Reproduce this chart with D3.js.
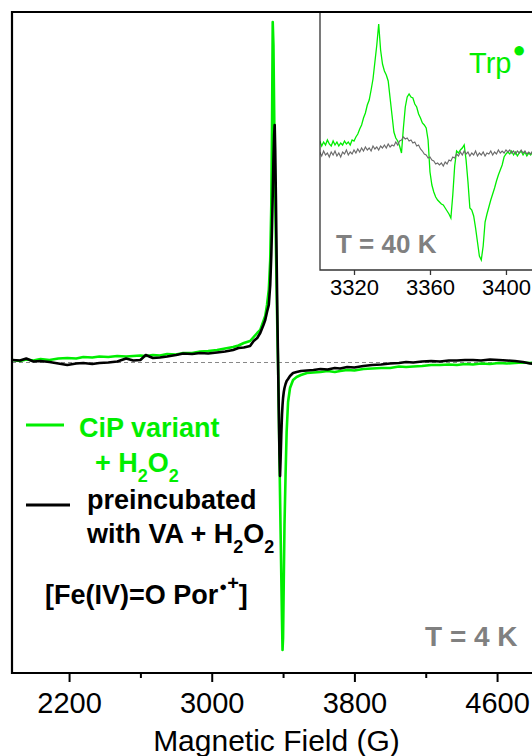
<!DOCTYPE html>
<html>
<head>
<meta charset="utf-8">
<script src="https://cdn.jsdelivr.net/npm/d3@7"></script>
<style>
  body { margin: 0; background: #fff; }
  svg text { font-family: "Liberation Sans", Arial, sans-serif; }
</style>
</head>
<body>
<svg id="chart" width="532" height="756"></svg>
<script>
const green = "#00ee00";
const gray = "#808080";

// Main spectrum, T = 4 K (field in G, intensity in a.u.)
const fieldMain = [
  1880, 1925, 1960, 2000, 2040, 2090, 2140, 2190, 2240, 2280,
  2330, 2370, 2420, 2470, 2520, 2560, 2600, 2630, 2670, 2710,
  2750, 2800, 2840, 2890, 2935, 2980, 3030, 3075, 3120, 3150,
  3180, 3215, 3235, 3255, 3272, 3290, 3300, 3310, 3320, 3328,
  3334, 3338, 3342, 3346, 3350, 3353, 3356, 3360, 3364, 3368,
  3372, 3376, 3380, 3383, 3386, 3390, 3394, 3397, 3400, 3404,
  3408, 3414, 3420, 3428, 3439, 3456, 3476, 3500, 3534, 3570,
  3610, 3650, 3690, 3720, 3760, 3800, 3850, 3900, 3950, 4000,
  4050, 4090, 4130, 4180, 4230, 4280, 4330, 4375, 4420, 4465,
  4510, 4560, 4610, 4655, 4700, 4745, 4785, 4830, 4880
];
const cipMain = [
  2.5, 1.5, 3, 2, 3.5, 2.5, 4, 4.5, 4, 5.5,
  5, 6, 5.5, 6.5, 6, 6.5, 7, 6.5, 7.5, 7,
  8.5, 8, 9.5, 9.5, 11, 11.5, 12.5, 14, 15.5, 17,
  19.5, 21.5, 25.5, 29.5, 32.5, 41.5, 46.5, 57.5, 72.5, 102.5,
  157.5, 232.5, 340.5, 317.5, 252.5, 202.5, 162.5, 117.5, 72.5, 32.5,
  -2.5, -47.5, -97.5, -132.5, -167.5, -212.5, -257.5, -287.5, -275.5, -217.5,
  -162.5, -112.5, -69.5, -39.5, -25.5, -17.5, -14.5, -12.5, -10.5, -10,
  -9.5, -8.5, -9.5, -8.5, -7.5, -8, -6.5, -6, -5.5, -5.5,
  -4, -4.5, -4, -3.5, -2.5, -2.5, -2, -2.5, -1.5, -2,
  -1, -1.5, -0.5, -1, -0.5, 0, -0.5, 0, -0.5
];
const vaMain = [
  2.5, 2, 4, 1, 1.5, 0.5, -1, -2.5, -1, -0.5,
  -1.5, -0.5, 0, 1, 4, 2, 2.5, 7.5, 4.5, 5,
  6, 7.5, 9, 8.5, 9.5, 9, 10, 11, 12.5, 14.5,
  15, 16.5, 21.5, 24.5, 29.5, 37.5, 42.5, 50.5, 57.5, 77.5,
  107.5, 134.5, 167.5, 202.5, 227.5, 237.5, 212.5, 162.5, 102.5, 47.5,
  0.5, -47.5, -92.5, -113.5, -97.5, -72.5, -52.5, -42.5, -35.5, -29.5,
  -25.5, -21.5, -18.5, -16.5, -13.5, -10.5, -9.5, -8.5, -8, -7.5,
  -6.5, -7, -5.5, -6, -4.5, -5, -3.5, -2.5, -2, -1,
  -0.5, 0.5, 0, 1, 1.5, 1, 2, 2, 2.5, 2.5,
  2, 3, 2.5, 2, 1.5, 0.5, -1, -1.5, -1
];

// Inset, T = 40 K, 1 G steps from 3302 G
const fieldInset = d3.range(3302, 3422);
const cipInset = [
  12.5, 7.5, 11.5, 8.5, 13.5, 9.5, 7.5, 12.5, 8.5, 11.5,
  7.5, 10.5, 8.5, 12.5, 9.5, 11.5, 8.5, 13.5, 12.5, 16.5,
  19.5, 24.5, 28.5, 35.5, 40.5, 48.5, 53.5, 63.5, 74.5, 91.5,
  108.5, 129.5, 103.5, 89.5, 82.5, 78.5, 72.5, 55.5, 38.5, 21.5,
  15.5, 12.5, 7.5, 0.5, 25.5, 46.5, 56.5, 59.5, 56.5, 55.5,
  49.5, 46.5, 39.5, 35.5, 30.5, 28.5, 25.5, 13.5, -18.5, -31.5,
  -38.5, -43.5, -46.5, -48.5, -50.5, -51.5, -54.5, -57.5, -60.5, -64.5,
  -41.5, -12.5, 2.5, 0.5, 3.5, 5.5, 8.5, -6.5, -28.5, -54.5,
  -56.5, -62.5, -74.5, -88.5, -102.5, -106.5, -92.5, -68.5, -60.5, -53.5,
  -46.5, -40.5, -34.5, -27.5, -21.5, -16.5, -11.5, -3.5, -0.5, 1.5,
  -0.5, 2.5, -1.5, 1.5, -2.5, 0.5, 2.5, -1.5, 1.5, -2.5,
  0.5, -1.5, 1.5, -0.5, 2.5, -1.5, 0.5, 1.5, -0.5, 0.5
];
const vaInset = [
  1.5, -2.5, 2.5, -1.5, 0.5, -3.5, 1.5, -1.5, 2.5, -2.5,
  0.5, -3.5, 1.5, -0.5, 3.5, -1.5, 1.5, -0.5, 3.5, 0.5,
  4.5, 1.5, 5.5, 2.5, 6.5, 3.5, 5.5, 2.5, 7.5, 4.5,
  6.5, 3.5, 7.5, 5.5, 8.5, 5.5, 9.5, 6.5, 8.5, 7.5,
  11.5, 8.5, 12.5, 13.5, 16.5, 14.5, 15.5, 12.5, 13.5, 10.5,
  11.5, 7.5, 8.5, 4.5, 2.5, -0.5, -1.5, -4.5, -3.5, -6.5,
  -7.5, -10.5, -9.5, -11.5, -9.5, -12.5, -8.5, -10.5, -6.5, -7.5,
  -3.5, -4.5, -0.5, -2.5, 1.5, -1.5, 2.5, -0.5, 1.5, -2.5,
  0.5, -1.5, 2.5, -2.5, 0.5, -1.5, 1.5, -2.5, 0.5, -0.5,
  2.5, -1.5, 1.5, -0.5, 3.5, 0.5, 2.5, 0.5, 3.5, 1.5,
  3.5, 0.5, 2.5, -0.5, 2.5, 0.5, 3.5, 0.5, 2.5, -0.5,
  1.5, -0.5, 2.5, 0.5, 1.5, -0.5, 2.5, 0.5, 1.5, 0.5
];

const mainTicks = [2200, 3000, 3800, 4600];
const mainMinorTicks = [2600, 3400, 4200];
const insetTicks = [3320, 3360, 3400];

const svg = d3.select("#chart");

// Main plot area
const plot = { left: 12, top: 12, right: 547, bottom: 673 };
const x = d3.scaleLinear().domain([1880, 4880]).range([plot.left, plot.right]);
const y = d3.scaleLinear().domain([-310.5, 350.5]).range([plot.bottom, plot.top]);

svg.append("defs").append("clipPath").attr("id", "clip-main")
  .append("rect")
  .attr("x", plot.left).attr("y", plot.top)
  .attr("width", plot.right - plot.left).attr("height", plot.bottom - plot.top);

// zero line
svg.append("line")
  .attr("x1", plot.left).attr("x2", plot.right)
  .attr("y1", y(0)).attr("y2", y(0))
  .attr("stroke", "#888").attr("stroke-width", 1)
  .attr("stroke-dasharray", "4,3");

const mainLine = (vals) => d3.line()
  .x((d, i) => x(fieldMain[i]))
  .y(d => y(d))(vals);

const traces = svg.append("g").attr("clip-path", "url(#clip-main)");
traces.append("path")
  .attr("d", mainLine(cipMain))
  .attr("fill", "none").attr("stroke", green).attr("stroke-width", 2.6)
  .attr("stroke-linejoin", "round");
traces.append("path")
  .attr("d", mainLine(vaMain))
  .attr("fill", "none").attr("stroke", "#000").attr("stroke-width", 2.6)
  .attr("stroke-linejoin", "round");

// Bottom axis
const xAxis = svg.append("g")
  .attr("transform", `translate(0,${plot.bottom})`)
  .call(d3.axisBottom(x).tickValues(mainTicks).tickSize(9).tickSizeOuter(0).tickFormat(d3.format("d")));
xAxis.select(".domain").remove();
xAxis.selectAll(".tick line").attr("stroke-width", 2);
xAxis.selectAll(".tick text")
  .attr("y", 40).attr("dy", null)
  .attr("font-size", 29).attr("fill", "#000")
  .style("font-family", '"Liberation Sans", Arial, sans-serif');

const xMinor = svg.append("g")
  .attr("transform", `translate(0,${plot.bottom})`)
  .call(d3.axisBottom(x).tickValues(mainMinorTicks).tickSize(5).tickFormat(""));
xMinor.select(".domain").remove();
xMinor.selectAll(".tick line").attr("stroke-width", 2);

// Frame (left, top, bottom)
svg.append("path")
  .attr("d", `M${plot.right},${plot.top}H${plot.left}V${plot.bottom}H${plot.right}`)
  .attr("fill", "none").attr("stroke", "#000").attr("stroke-width", 2.2);

svg.append("text")
  .attr("x", 276.5).attr("y", 751)
  .attr("text-anchor", "middle").attr("font-size", 30)
  .text("Magnetic Field (G)");

// Inset
const inset = { left: 320, top: 12, right: 547, bottom: 270 };
const xi = d3.scaleLinear().domain([3302.1, 3421.6]).range([inset.left, inset.right]);
const yi = d3.scaleLinear().domain([-116.5, 141.5]).range([inset.bottom, inset.top]);

svg.select("defs").append("clipPath").attr("id", "clip-inset")
  .append("rect")
  .attr("x", inset.left).attr("y", inset.top)
  .attr("width", inset.right - inset.left).attr("height", inset.bottom - inset.top);

svg.append("rect")
  .attr("x", inset.left).attr("y", inset.top)
  .attr("width", inset.right - inset.left).attr("height", inset.bottom - inset.top)
  .attr("fill", "#fff");

const insetLine = (vals) => d3.line()
  .x((d, i) => xi(fieldInset[i]))
  .y(d => yi(d))(vals);

const insetTraces = svg.append("g").attr("clip-path", "url(#clip-inset)");
insetTraces.append("path")
  .attr("d", insetLine(cipInset))
  .attr("fill", "none").attr("stroke", green).attr("stroke-width", 1.3);
insetTraces.append("path")
  .attr("d", insetLine(vaInset))
  .attr("fill", "none").attr("stroke", "#6a6a6a").attr("stroke-width", 1.1);

const xiAxis = svg.append("g")
  .attr("transform", `translate(0,${inset.bottom})`)
  .call(d3.axisBottom(xi).tickValues(insetTicks).tickSize(5).tickSizeOuter(0).tickFormat(d3.format("d")));
xiAxis.select(".domain").remove();
xiAxis.selectAll(".tick line").attr("stroke", "#333").attr("stroke-width", 1.3);
xiAxis.selectAll(".tick text")
  .attr("y", 25).attr("dy", null)
  .attr("font-size", 22).attr("fill", "#000")
  .style("font-family", '"Liberation Sans", Arial, sans-serif');

svg.append("path")
  .attr("d", `M${inset.left},${inset.top}V${inset.bottom}H${inset.right}`)
  .attr("fill", "none").attr("stroke", "#333").attr("stroke-width", 1.3);

// redraw top frame edge over the inset
svg.append("line")
  .attr("x1", plot.left).attr("x2", plot.right)
  .attr("y1", plot.top).attr("y2", plot.top)
  .attr("stroke", "#000").attr("stroke-width", 2.2);

const trp = svg.append("text")
  .attr("x", 469).attr("y", 73)
  .attr("font-size", 29).attr("fill", green);
trp.append("tspan").text("Trp");
trp.append("tspan").attr("dx", 1).attr("dy", -16).attr("font-size", 22).text("●");

svg.append("text")
  .attr("x", 336).attr("y", 253)
  .attr("font-size", 26).attr("font-weight", "bold").attr("fill", gray)
  .text("T = 40 K");

svg.append("text")
  .attr("x", 425).attr("y", 646)
  .attr("font-size", 28).attr("font-weight", "bold").attr("fill", gray)
  .text("T = 4 K");

// Legend
const legend = svg.append("g").attr("font-weight", "bold").attr("font-size", 27);

legend.append("line")
  .attr("x1", 26).attr("x2", 64).attr("y1", 425).attr("y2", 425)
  .attr("stroke", green).attr("stroke-width", 3);
legend.append("text").attr("x", 79).attr("y", 437).attr("fill", green)
  .text("CiP variant");
const h2o2a = legend.append("text").attr("x", 95).attr("y", 472).attr("fill", green);
h2o2a.append("tspan").text("+ H");
h2o2a.append("tspan").attr("dy", 10).attr("font-size", 18).text("2");
h2o2a.append("tspan").attr("dy", -10).text("O");
h2o2a.append("tspan").attr("dy", 10).attr("font-size", 18).text("2");

legend.append("line")
  .attr("x1", 26).attr("x2", 70).attr("y1", 505).attr("y2", 505)
  .attr("stroke", "#000").attr("stroke-width", 3);
legend.append("text").attr("x", 87).attr("y", 509).attr("fill", "#000")
  .text("preincubated");
const h2o2b = legend.append("text").attr("x", 87).attr("y", 543).attr("fill", "#000");
h2o2b.append("tspan").text("with VA + H");
h2o2b.append("tspan").attr("dy", 10).attr("font-size", 18).text("2");
h2o2b.append("tspan").attr("dy", -10).text("O");
h2o2b.append("tspan").attr("dy", 10).attr("font-size", 18).text("2");

const species = legend.append("text").attr("x", 45).attr("y", 604).attr("fill", "#000");
species.append("tspan").text("[Fe(IV)=O Por");
species.append("tspan").attr("dx", 1).attr("dy", -13).attr("font-size", 13).text("●");
species.append("tspan").attr("dy", -1).attr("font-size", 20).text("+");
species.append("tspan").attr("dy", 14).text("]");
</script>
</body>
</html>
